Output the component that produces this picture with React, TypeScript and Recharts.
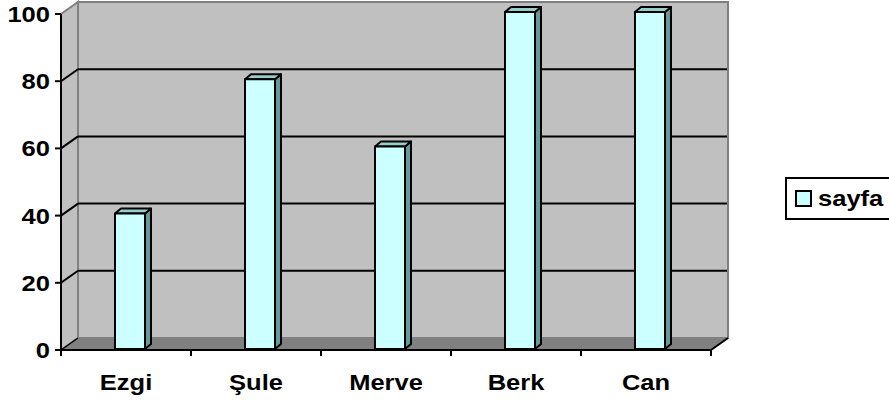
import React from 'react';
import { BarChart, Bar, XAxis, YAxis, ReferenceArea, Legend } from 'recharts';

const categories = ['Ezgi', 'Şule', 'Merve', 'Berk', 'Can'];
const sayfaValues = [40, 80, 60, 100, 100];
const yTicks = [0, 20, 40, 60, 80, 100];
const seriesName = 'sayfa';

const data = categories.map((name, i) => ({ name, sayfa: sayfaValues[i] }));

const FONT = '"Liberation Sans", Arial, sans-serif';
const STRETCH = 1.16;
const DX = 17;
const DY = 12;
const BDX = 6;
const BDY = 5;
const SHIFT = 4;
const WALL = '#C0C0C0';
const FLOOR = '#808080';
const EDGE = '#808080';

const Walls = (props: any) => {
  const { x, y, width, height } = props;
  const bottom = y + height;
  const right = x + width;
  const yMax = yTicks[yTicks.length - 1];
  const toY = (v: number) => bottom - (height * v) / yMax;
  const n = categories.length;
  const step = width / n;
  return (
    <g>
      <rect x={x + DX} y={y - DY} width={width} height={height} fill={WALL} stroke={EDGE} strokeWidth={2} />
      <polygon
        points={`${x},${y} ${x + DX},${y - DY} ${x + DX},${bottom - DY} ${x},${bottom}`}
        fill={WALL}
        stroke={EDGE}
        strokeWidth={2}
      />
      <polygon
        points={`${x},${bottom} ${right},${bottom} ${right + DX},${bottom - DY} ${x + DX},${bottom - DY}`}
        fill={FLOOR}
        stroke={EDGE}
        strokeWidth={1}
      />
      {yTicks
        .filter((t) => t > 0 && t < yMax)
        .map((t) => {
          const yy = toY(t);
          return (
            <g key={t}>
              <line x1={x} y1={yy} x2={x + DX} y2={yy - DY} stroke="#000" strokeWidth={2} />
              <line x1={x + DX} y1={yy - DY} x2={right + DX - 1} y2={yy - DY} stroke="#000" strokeWidth={2} />
            </g>
          );
        })}
      <line x1={x} y1={bottom} x2={x + DX} y2={bottom - DY} stroke="#000" strokeWidth={1.5} />
      <line x1={right} y1={bottom} x2={right + DX} y2={bottom - DY} stroke="#000" strokeWidth={2} />
      {Array.from({ length: n + 1 }).map((_, i) => (
        <line key={i} x1={x + i * step} y1={bottom} x2={x + i * step} y2={bottom + 6} stroke="#000" strokeWidth={2} />
      ))}
    </g>
  );
};

const Bar3D = (props: any) => {
  const { x, y, width, height } = props;
  if (height == null || width == null) return null;
  const fx = x + SHIFT;
  const top = y - 2;
  const b = y + height - 1;
  return (
    <g stroke="#000" strokeWidth={2} strokeLinejoin="round">
      <polygon points={`${fx + width},${top} ${fx + width + BDX},${top - BDY} ${fx + width + BDX},${b - BDY} ${fx + width},${b}`} fill="#669999" />
      <polygon points={`${fx},${top} ${fx + BDX},${top - BDY} ${fx + width + BDX},${top - BDY} ${fx + width},${top}`} fill="#99CCCC" />
      <rect x={fx} y={top} width={width} height={b - top} fill="#CCFFFF" />
    </g>
  );
};

const YTick = (props: any) => {
  const { x, y, payload } = props;
  return (
    <g transform={`translate(${x},${y})`}>
      <text transform={`scale(${STRETCH},1)`} x={0} y={0} dy="0.36em" textAnchor="end" fontFamily={FONT} fontWeight="bold" fontSize={22} fill="#000">
        {payload.value}
      </text>
    </g>
  );
};

const XTick = (props: any) => {
  const { x, payload } = props;
  return (
    <g transform={`translate(${x},390)`}>
      <text transform={`scale(${STRETCH},1)`} x={0} y={0} textAnchor="middle" fontFamily={FONT} fontWeight="bold" fontSize={22} fill="#000">
        {payload.value}
      </text>
    </g>
  );
};

const LegendBox = () => (
  <div
    style={{
      boxSizing: 'border-box',
      width: 110,
      height: 43,
      border: '2px solid #000',
      background: '#fff',
      display: 'flex',
      alignItems: 'center',
      paddingLeft: 8,
    }}
  >
    <div style={{ boxSizing: 'border-box', width: 17, height: 17, border: '2px solid #000', background: '#CCFFFF' }} />
    <span
      style={{
        marginLeft: 6,
        fontFamily: FONT,
        fontWeight: 'bold',
        fontSize: 22,
        lineHeight: '22px',
        display: 'inline-block',
        transform: `scale(${STRETCH},1)`,
        transformOrigin: 'left center',
      }}
    >
      {seriesName}
    </span>
  </div>
);

export default function App() {
  return (
    <div style={{ position: 'absolute', left: 0, top: 0, width: 889, height: 403, overflow: 'hidden', background: '#fff' }}>
      <BarChart width={889} height={403} data={data} margin={{ top: 14, right: 178, bottom: 0, left: 0 }} barSize={30}>
        <ReferenceArea y1={0} y2={100} shape={<Walls />} ifOverflow="visible" />
        <XAxis
          dataKey="name"
          height={53}
          axisLine={{ stroke: '#000', strokeWidth: 2 }}
          tickLine={false}
          tick={<XTick />}
          interval={0}
        />
        <YAxis
          width={61}
          domain={[0, 100]}
          ticks={yTicks}
          axisLine={{ stroke: '#000', strokeWidth: 2 }}
          tickLine={{ stroke: '#000', strokeWidth: 2 }}
          tickSize={6}
          tickMargin={5}
          tick={<YTick />}
        />
        <Bar dataKey="sayfa" name={seriesName} shape={<Bar3D />} isAnimationActive={false} />
        <Legend
          layout="horizontal"
          verticalAlign="middle"
          align="center"
          content={<LegendBox />}
          wrapperStyle={{ left: 785, top: 177, width: 110 }}
        />
      </BarChart>
    </div>
  );
}
